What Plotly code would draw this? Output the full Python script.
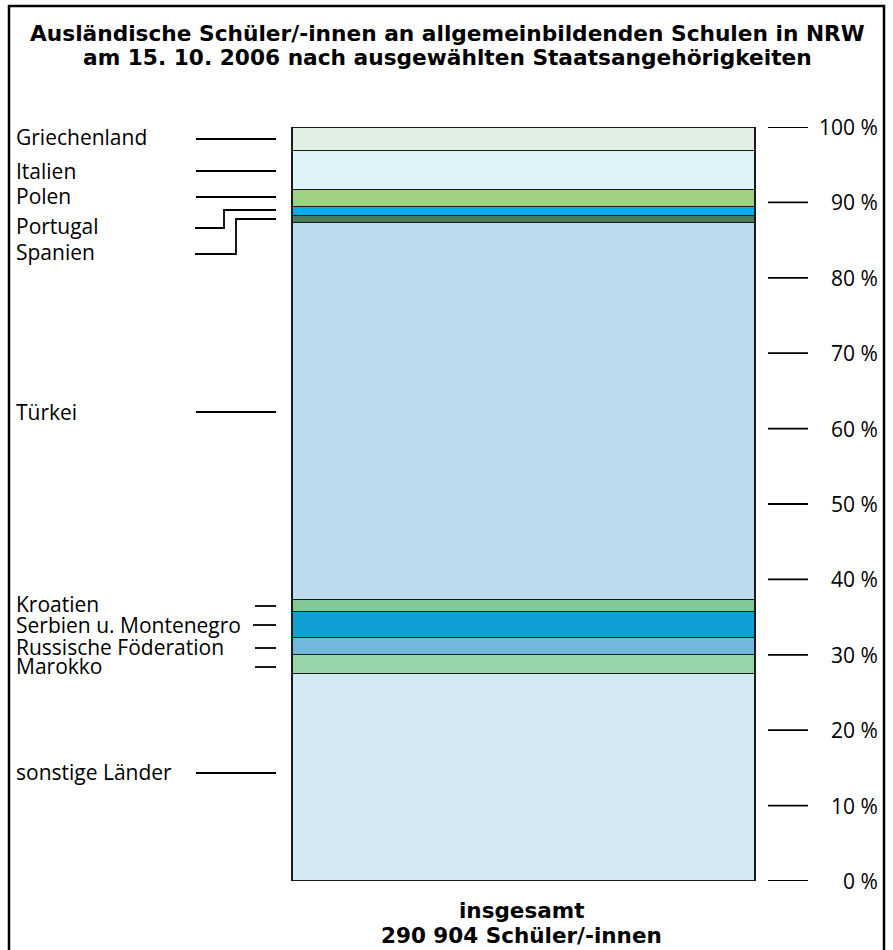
import plotly.graph_objects as go

# Data (percent shares, bottom to top)
countries = ["sonstige Länder", "Marokko", "Russische Föderation", "Serbien u. Montenegro",
             "Kroatien", "Türkei", "Spanien", "Portugal", "Polen", "Italien", "Griechenland"]
shares = [27.45, 2.48, 2.33, 3.37, 1.67, 50.0, 0.85, 1.3, 2.25, 5.1, 3.2]
colors = ["#d4e8f4", "#98d4aa", "#70b8dc", "#10a0d4", "#80c898", "#bcdcee",
          "#4a7a5a", "#00aeef", "#a0d080", "#e0f2fa", "#e1f0e3"]
tick_values = [0, 10, 20, 30, 40, 50, 60, 70, 80, 90, 100]
tick_labels = [f"{v} %" for v in tick_values]

title_lines = ["Ausländische Schüler/-innen an allgemeinbildenden Schulen in NRW",
               "am 15. 10. 2006 nach ausgewählten Staatsangehörigkeiten"]
bottom_lines = ["insgesamt", "290 904 Schüler/-innen"]

W, H = 893, 950
FONT = "Open Sans"
BOLD_FONT = "DejaVu Sans"

def py(p):  # pixel y -> paper
    return 1 - p / H

def px(p):
    return p / W

fig = go.Figure()
for c, s, col in zip(countries, shares, colors):
    fig.add_trace(go.Bar(x=["insgesamt"], y=[s], name=c, width=1,
                         marker=dict(color=col, line=dict(color="#1a1a1a", width=1.5)),
                         hoverinfo="name+y"))

shapes = []
annotations = []

# outer frame
shapes.append(dict(type="rect", xref="paper", yref="paper", x0=px(9), x1=px(884),
                   y0=py(1000), y1=py(6), line=dict(color="black", width=2.5)))
# bar outer outline
shapes.append(dict(type="rect", xref="paper", yref="y", x0=px(292), x1=px(755),
                   y0=0, y1=100, line=dict(color="#1a1a1a", width=2)))

# right-side ticks
for v, lab in zip(tick_values, tick_labels):
    shapes.append(dict(type="line", xref="paper", yref="y", x0=px(768), x1=px(808),
                       y0=v, y1=v, line=dict(color="black", width=1.8)))
    annotations.append(dict(xref="paper", yref="y", x=px(880), y=v, text=lab,
                            showarrow=False, xanchor="right", yanchor="middle",
                            font=dict(family=FONT, size=21, color="black")))

# left labels: (text, text_y_px)
left_labels = [("Griechenland", 137), ("Italien", 171), ("Polen", 196), ("Portugal", 226),
               ("Spanien", 252), ("Türkei", 412), ("Kroatien", 604),
               ("Serbien u. Montenegro", 625), ("Russische Föderation", 647),
               ("Marokko", 666), ("sonstige Länder", 772)]
for t, yy in left_labels:
    annotations.append(dict(xref="paper", yref="paper", x=px(14), y=py(yy), text=t,
                            showarrow=False, xanchor="left", yanchor="middle",
                            font=dict(family=FONT, size=21, color="black")))

# leader lines
def hline(x0, x1, y):
    shapes.append(dict(type="line", xref="paper", yref="paper", x0=px(x0), x1=px(x1),
                       y0=py(y), y1=py(y), line=dict(color="black", width=1.8)))

def poly(points):
    path = "M " + " L ".join(f"{px(a)},{py(b)}" for a, b in points)
    shapes.append(dict(type="path", xref="paper", yref="paper", path=path,
                       line=dict(color="black", width=1.8)))

hline(196, 276, 139)
hline(196, 276, 171)
hline(196, 276, 197)
poly([(195, 228), (224, 228), (224, 210), (276, 210)])
poly([(195, 254), (236, 254), (236, 219), (276, 219)])
hline(196, 276, 412)
hline(255, 276, 606)
hline(253, 276, 625)
hline(255, 276, 648)
hline(255, 276, 667)
hline(196, 276, 773)

# title
for i, t in enumerate(title_lines):
    annotations.append(dict(xref="paper", yref="paper", x=px(447), y=py(33 + 25 * i), text=f"<b>{t}</b>",
                            showarrow=False, xanchor="center", yanchor="middle",
                            font=dict(family=BOLD_FONT, size=21.7, color="black")))
# bottom caption
for i, t in enumerate(bottom_lines):
    annotations.append(dict(xref="paper", yref="paper", x=px(521), y=py(910 + 25 * i), text=f"<b>{t}</b>",
                            showarrow=False, xanchor="center", yanchor="middle",
                            font=dict(family=BOLD_FONT, size=21.5, color="black")))

fig.update_layout(
    width=W, height=H, margin=dict(l=0, r=0, t=0, b=0),
    paper_bgcolor="white", plot_bgcolor="white",
    barmode="stack", showlegend=False, bargap=0,
    xaxis=dict(domain=[px(292), px(755)], visible=False, range=[-0.5, 0.5]),
    yaxis=dict(domain=[py(881), py(127)], range=[0, 100], visible=False),
    shapes=shapes, annotations=annotations,
    font=dict(family=FONT),
)

fig.write_html("out.html", config={"displayModeBar": False},
               post_script="document.body.style.margin='0';document.body.style.overflow='hidden';")
